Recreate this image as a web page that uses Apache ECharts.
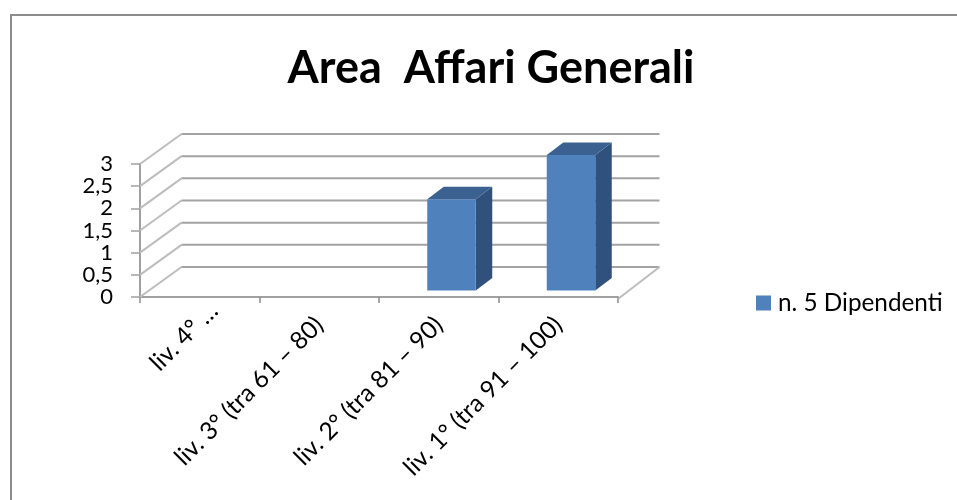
<!DOCTYPE html>
<html><head><meta charset="utf-8">
<style>html,body{margin:0;padding:0;background:#fff}#c{width:957px;height:500px}</style>
<script src="https://cdn.jsdelivr.net/npm/echarts@6/dist/echarts.min.js"></script>
</head><body><div id="c"></div>
<script>
const titleText = 'Area  Affari Generali';
const seriesName = 'n. 5 Dipendenti';
const categories = ['liv. 4° …', 'liv. 3° (tra 61 – 80)', 'liv. 2° (tra 81 – 90)', 'liv. 1° (tra 91 – 100)'];
const values = [0, 0, 2, 3];
const yTicks = [0, 0.5, 1, 1.5, 2, 2.5, 3];
const FONT = 'Lato';
const chart = echarts.init(document.getElementById('c'), null, {renderer:'canvas'});
const GRID = '#a3a3a3', DIAG = '#bdbdbd', AXIS = '#a0a0a0';
const wallDx = 41.5, wallDy = -30;
function renderWall(params, api) {
  const cs = params.coordSys, v = api.value(0);
  const y = api.coord([0, v])[1];
  const x0 = cs.x, x1 = cs.x + cs.width;
  const children = [
    {type:'line', shape:{x1:x0, y1:y, x2:x0+wallDx, y2:y+wallDy}, style:{stroke:DIAG, lineWidth:2}},
    {type:'line', shape:{x1:x0+wallDx, y1:y+wallDy, x2:x1+wallDx, y2:y+wallDy}, style:{stroke:GRID, lineWidth:2}}
  ];
  if (v === 0) children.push({type:'line', shape:{x1:x1, y1:y+2, x2:x1+wallDx, y2:y+wallDy}, style:{stroke:DIAG, lineWidth:2}});
  return {type:'group', children};
}
function renderBar(params, api) {
  const v = api.value(1);
  if (!v) return null;
  const c = api.coord([api.value(0), v]);
  const b = api.coord([api.value(0), 0]);
  const l = c[0] - 11.5, r = l + 48.5, t = c[1] - 9, bt = b[1] - 6.6, dx = 16.5, dy = -12.5;
  const poly = (pts, fill) => ({type:'polygon', shape:{points:pts}, style:{fill}});
  return {type:'group', children:[
    poly([[r,t],[r+dx,t+dy],[r+dx,bt+dy],[r,bt]], '#30517b'),
    poly([[l,t],[l+dx,t+dy],[r+dx,t+dy],[r,t]], '#3a618f'),
    {type:'rect', shape:{x:l, y:t, width:r-l, height:bt-t}, style:{fill:api.visual('color')}}
  ]};
}
chart.setOption({
  animation:false,
  backgroundColor:'#fff',
  title:{text:titleText, left:486, top:41, textAlign:'center',
    textStyle:{fontFamily:FONT, fontWeight:'bold', fontSize:45, color:'#000'}},
  legend:{data:[seriesName], left:751, top:286, itemWidth:15, itemHeight:15, itemGap:0, icon:'rect',
    textStyle:{fontFamily:FONT, fontSize:24.3, color:'#000', padding:[0,0,0,2]}},
  grid:{left:140, right:339, top:164, bottom:203, containLabel:false},
  xAxis:{type:'category', offset:2, boundaryGap:true,
    data:categories.map((c,i)=> i===0 ? {value:c, textStyle:{padding:[0,-20,0,0]}} : c),
    axisLine:{lineStyle:{color:AXIS, width:2}},
    axisTick:{show:true, alignWithLabel:false, length:6, lineStyle:{color:'#8c8c8c', width:1.5}},
    axisLabel:{rotate:45, interval:0, margin:22, fontFamily:FONT, fontSize:24.5, color:'#000'}},
  yAxis:{type:'value', min:0, max:3, interval:0.5,
    axisLine:{show:true, lineStyle:{color:AXIS, width:2}},
    axisTick:{show:true, length:9, lineStyle:{color:AXIS, width:1.5}},
    splitLine:{show:false},
    axisLabel:{margin:27, fontFamily:FONT, fontSize:22, color:'#000', padding:[6,0,0,0],
      formatter:v=>String(v).replace('.',',')}},
  series:[
    {type:'custom', name:'walls', silent:true, z:1, renderItem:renderWall, clip:false,
      data:yTicks.map(v=>[v]), encode:{y:0}},
    {type:'custom', name:seriesName, z:3, renderItem:renderBar, clip:false,
      itemStyle:{color:'#4f81bd'}, data:values.map((v,i)=>[i,v]), encode:{x:0,y:1}}
  ],
  graphic:[
    {type:'line', z:10, shape:{x1:11,y1:15,x2:957,y2:15}, style:{stroke:'#8c8c8c', lineWidth:2}},
    {type:'line', z:10, shape:{x1:11,y1:14,x2:11,y2:500}, style:{stroke:'#8c8c8c', lineWidth:2}}
  ]
});
</script></body></html>
